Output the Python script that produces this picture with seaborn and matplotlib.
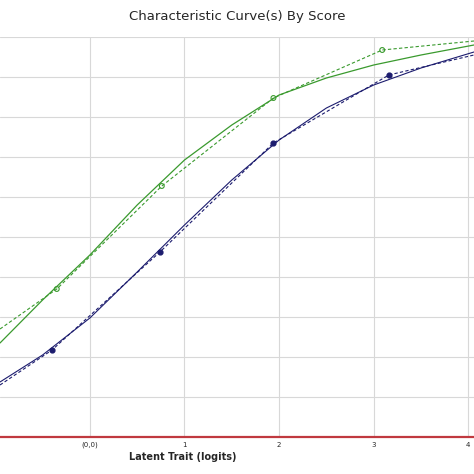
import numpy as np
import pandas as pd
import seaborn as sns
import matplotlib.pyplot as plt

# curvas
x_curve = [-0.95, -0.5, 0.0, 0.5, 1.0, 1.5, 2.0, 2.5, 3.0, 3.5, 4.06]
verde_modelo = [0.235, 0.3425, 0.455, 0.58, 0.6925, 0.78, 0.855, 0.8975, 0.93, 0.955, 0.98]
azul_modelo = [0.1375, 0.205, 0.2975, 0.4125, 0.53, 0.6425, 0.7425, 0.8225, 0.88, 0.9225, 0.9625]

# pontos observados (linha tracejada)
x_verde_obs = [-0.95, -0.35, 0.76, 1.94, 3.09, 4.06]
verde_obs = [0.27, 0.37, 0.6275, 0.8475, 0.9675, 0.99]
x_azul_obs = [-0.95, -0.40, 0.74, 1.94, 3.16, 4.06]
azul_obs = [0.13, 0.2175, 0.4625, 0.735, 0.905, 0.955]

xticks = [0, 1, 2, 3, 4]
xticklabels = ['(0,0)', '1', '2', '3', '4']

sns.set_style('white')
fig = plt.figure(figsize=(4.74, 4.74), dpi=100)
ax = fig.add_axes([0, 37 / 474, 1, 400 / 474])

verde = '#3a9a2e'
azul = '#1c1c6e'

sns.lineplot(x=x_curve, y=verde_modelo, ax=ax, color=verde, lw=0.9)
sns.lineplot(x=x_curve, y=azul_modelo, ax=ax, color=azul, lw=0.8)
ax.plot(x_verde_obs, verde_obs, color=verde, lw=0.8, ls=(0, (3, 2)))
ax.plot(x_azul_obs, azul_obs, color=azul, lw=0.8, ls=(0, (3, 2)))
ax.scatter(x_verde_obs[1:-1], verde_obs[1:-1], s=12, facecolors='none',
           edgecolors=verde, linewidths=0.8, zorder=3)
ax.scatter(x_azul_obs[1:-1], azul_obs[1:-1], s=12, color=azul, zorder=3)

ax.set_xlim(-0.95, 4.06)
ax.set_ylim(0, 1.0)
ax.set_xticks(xticks)
ax.set_xticklabels(xticklabels, fontsize=5)
ax.set_yticks(np.arange(0, 1.01, 0.1))
ax.set_yticklabels([])
ax.tick_params(length=2, pad=1.5, left=False)
ax.grid(True, color='#d8d8d8', lw=0.8)
for s in ['left', 'right', 'top']:
    ax.spines[s].set_visible(False)
ax.spines['bottom'].set_color('#c0393f')
ax.spines['bottom'].set_linewidth(1.6)

fig.text(0.5, 0.965, 'Characteristic Curve(s) By Score', ha='center',
         va='center', fontsize=9.5)
fig.text(183 / 474, 1 - 457 / 474, 'Latent Trait (logits)', ha='center',
         va='center', fontsize=7, fontweight='bold')

fig.savefig('out.png', dpi=100)
